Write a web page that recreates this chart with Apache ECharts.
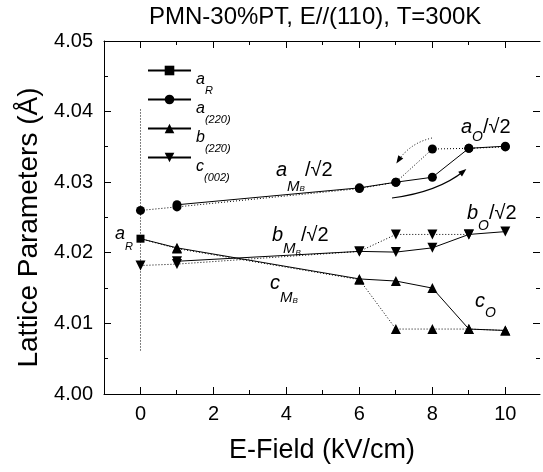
<!DOCTYPE html>
<html>
<head>
<meta charset="utf-8">
<script src="https://cdn.jsdelivr.net/npm/echarts@6/dist/echarts.min.js"></script>
<style>
  html, body { margin: 0; padding: 0; background: #fff; }
  #chart { width: 543px; height: 472px; }
</style>
</head>
<body>
<div id="chart"></div>
<script>
// E-field values (kV/cm) and lattice parameters (Å)
const fieldAUp = [1, 6, 7, 8, 9, 10]
const aUp = [4.0268, 4.0292, 4.0300, 4.0307, 4.0348, 4.0351]
const fieldADown = [0, 1, 6, 7, 8, 9, 10]
const aDown = [4.0260, 4.0265, 4.0291, 4.0300, 4.0347, 4.0348, 4.0350]

const fieldBUp = [0, 1, 6, 7, 8, 9, 10]
const bUp = [4.0220, 4.0207, 4.0163, 4.0160, 4.0150, 4.0092, 4.0090]
const fieldBDown = [0, 1, 6, 7, 8, 9, 10]
const bDown = [4.0220, 4.0206, 4.0162, 4.0092, 4.0092, 4.0092, 4.0090]

const fieldCUp = [1, 6, 7, 8, 9, 10]
const cUp = [4.0188, 4.0202, 4.0201, 4.0207, 4.0226, 4.0230]
const fieldCDown = [0, 1, 6, 7, 8, 9]
const cDown = [4.0182, 4.0184, 4.0202, 4.0226, 4.0226, 4.0226]

const fieldR = [0]
const aR = [4.0220]

// vertical dotted guide at E = 0
const guideField = [0, 0]
const guideValue = [4.0403, 4.0060]

// tick marks (drawn inside the frame on all four sides)
const xMajorTicks = [0, 2, 4, 6, 8, 10]
const xMinorTicks = [1, 3, 5, 7, 9]
const yMajorTicks = [4.00, 4.01, 4.02, 4.03, 4.04, 4.05]
const yMinorTicks = [4.005, 4.015, 4.025, 4.035, 4.045]

const X_MIN = -1, X_MAX = 10.95
const Y_MIN = 4.00, Y_MAX = 4.05

const FONT = 'Liberation Sans, Arial, Helvetica, sans-serif'
const BLACK = '#000'

const pts = (xs, ys) => xs.map((x, i) => [x, ys[i]])

const chart = echarts.init(document.getElementById('chart'))

// line series helper
const lineSeries = (name, data, symbol, size, dotted, extra) => Object.assign({
  name,
  type: 'line',
  data,
  symbol,
  symbolSize: size,
  itemStyle: { color: BLACK },
  lineStyle: { color: BLACK, width: 1, type: dotted ? [1, 2] : 'solid' },
  emphasis: { disabled: true },
  animation: false
}, extra || {})

// first point of the b-series sits under the a_R square
const hideFirst = (data) => data.map((d, i) => i === 0 ? { value: d, symbol: 'none' } : d)

// arrow head polygon at the end of a quadratic curve
const arrowHead = (x, y, cx, cy, len, hw) => {
  const dx = x - cx, dy = y - cy
  const l = Math.sqrt(dx * dx + dy * dy)
  const ux = dx / l, uy = dy / l
  const tx = x + ux * 3, ty = y + uy * 3
  const bx = tx - ux * len, by = ty - uy * len
  return [[tx, ty], [bx - uy * hw, by + ux * hw], [bx + uy * hw, by - ux * hw]]
}

const mainStyle = { fontFamily: FONT, fontSize: 20, fontStyle: 'italic', lineHeight: 24, verticalAlign: 'top' }
const plainStyle = { fontFamily: FONT, fontSize: 20, lineHeight: 24, verticalAlign: 'top' }
const sub = (size, pad) => ({ fontFamily: FONT, fontSize: size, fontStyle: 'italic', lineHeight: size, verticalAlign: 'top', padding: [pad, 0, 0, 0] })

const label = (left, top, text, rich) => ({
  type: 'text',
  left, top,
  style: { text, rich, fill: BLACK, font: '20px ' + FONT }
})

const legendNames = {
  aR: '{m|a}{s|R}',
  a220: '{m|a}{s|(220)}',
  b220: '{m|b}{s|(2\u0032\u03040)}',
  c002: '{m|c}{s|(002)}'
}

const frameAxis = (extra) => Object.assign({
  type: 'value',
  axisLine: { show: true, onZero: false, lineStyle: { color: BLACK, width: 1 } },
  axisTick: { show: false },
  axisLabel: { show: false },
  splitLine: { show: false }
}, extra)

const annotations = [
  label(276, 160, '{m|a}{s|M}{t|B}{n|/√2}', { m: mainStyle, n: plainStyle, s: sub(15, 19), t: sub(8, 25) }),
  label(272, 225, '{m|b}{s|M}{t|B}{n|/√2}', { m: mainStyle, n: plainStyle, s: sub(15, 16), t: sub(8, 24) }),
  label(270, 273, '{m|c}{s|M}{t|B}', { m: mainStyle, s: sub(15, 17), t: sub(8, 24) }),
  label(461, 117, '{m|a}{s|O}{n|/√2}', { m: mainStyle, n: plainStyle, s: sub(14, 13) }),
  label(467, 203, '{m|b}{s|O}{n|/√2}', { m: mainStyle, n: plainStyle, s: sub(14, 16) }),
  label(475, 291, '{m|c}{s|O}', { m: mainStyle, s: sub(14, 15) }),
  label(115, 225, '{m|a}{s|R}', {
    m: { fontFamily: FONT, fontSize: 18, fontStyle: 'italic', lineHeight: 22, verticalAlign: 'top' },
    s: sub(11, 16)
  }),
  {
    type: 'bezierCurve',
    shape: { x1: 432, y1: 138, cpx1: 410, cpy1: 143, x2: 398, y2: 161 },
    style: { stroke: BLACK, lineWidth: 1, lineDash: [1, 2], fill: null }
  },
  {
    type: 'polygon',
    shape: { points: arrowHead(398, 161, 410, 143, 8, 3) },
    style: { fill: BLACK }
  },
  {
    type: 'bezierCurve',
    shape: { x1: 392, y1: 198, cpx1: 438, cpy1: 192, x2: 464, y2: 171 },
    style: { stroke: BLACK, lineWidth: 1.2, fill: null }
  },
  {
    type: 'polygon',
    shape: { points: arrowHead(464, 171, 438, 192, 8, 3) },
    style: { fill: BLACK }
  }
]

const option = {
  animation: false,
  backgroundColor: '#fff',
  title: {
    text: 'PMN-30%PT, E//(110), T=300K',
    left: 144,
    top: 0,
    textStyle: { fontFamily: FONT, fontSize: 24, fontWeight: 'normal', color: BLACK }
  },
  grid: { left: 104, top: 41, width: 438, height: 353 },
  legend: {
    data: ['aR', 'a220', 'b220', 'c002'],
    orient: 'vertical',
    left: 147,
    top: 61.5,
    padding: 0,
    itemWidth: 43,
    itemHeight: 12,
    itemGap: -6,
    selectedMode: false,
    formatter: (name) => legendNames[name],
    textStyle: {
      color: BLACK,
      rich: {
        m: { fontFamily: FONT, fontSize: 16, fontStyle: 'italic', lineHeight: 18, verticalAlign: 'top', padding: [10, 0, 0, 0] },
        s: { fontFamily: FONT, fontSize: 11, fontStyle: 'italic', lineHeight: 12, verticalAlign: 'top', padding: [24, 0, 0, 0] }
      }
    }
  },
  xAxis: [
    frameAxis({
      position: 'bottom',
      min: X_MIN, max: X_MAX, interval: 1,
      name: 'E-Field (kV/cm)', nameLocation: 'middle', nameGap: 43,
      nameTextStyle: { fontFamily: FONT, fontSize: 27, color: BLACK },
      axisLabel: {
        show: true, margin: 10, fontFamily: FONT, fontSize: 20, color: BLACK,
        formatter: (v) => (v % 2 === 0 && v >= 0 && v <= 10) ? String(v) : ''
      }
    }),
    frameAxis({ position: 'top', min: X_MIN, max: X_MAX, interval: 1 })
  ],
  yAxis: [
    frameAxis({
      position: 'left',
      min: Y_MIN, max: Y_MAX, interval: 0.01,
      name: 'Lattice Parameters (Å)', nameLocation: 'middle', nameGap: 56,
      nameTextStyle: { fontFamily: FONT, fontSize: 28, color: BLACK, padding: [0, 20, 0, 0] },
      axisLabel: { show: true, margin: 11, fontFamily: FONT, fontSize: 20, color: BLACK, formatter: (v) => v.toFixed(2) }
    })
  ],
  series: [
    lineSeries('guide', pts(guideField, guideValue), 'none', 0, true, { silent: true }),
    lineSeries('a220 down', pts(fieldADown, aDown), 'circle', 9, true),
    lineSeries('b220 down', hideFirst(pts(fieldBDown, bDown)), 'triangle', 10, true),
    lineSeries('c002 down', pts(fieldCDown, cDown), 'triangle', 10, true, { symbolRotate: 180 }),
    lineSeries('a220', pts(fieldAUp, aUp), 'circle', 9, false),
    lineSeries('b220', hideFirst(pts(fieldBUp, bUp)), 'triangle', 10, false),
    lineSeries('c002', pts(fieldCUp, cUp), 'triangle', 10, false, { symbolRotate: 180 }),
    lineSeries('aR', pts(fieldR, aR), 'rect', 8, false)
  ],
  graphic: annotations
}

chart.setOption(option)

// tick marks as thin filled rects, placed through the grid's own scales
const px = (x, y) => chart.convertToPixel({ gridIndex: 0 }, [x, y])
const tickRect = (x, y, w, h) => ({
  type: 'rect',
  silent: true,
  shape: { x, y, width: w, height: h },
  style: { fill: BLACK }
})
const ticks = []
const addXTick = (v, len) => {
  const b = px(v, Y_MIN)
  const t = px(v, Y_MAX)
  const x = Math.round(b[0] - 0.5)
  ticks.push(tickRect(x, b[1] - len, 1, len), tickRect(x, t[1], 1, len))
}
const addYTick = (v, len) => {
  const l = px(X_MIN, v)
  const r = px(X_MAX, v)
  const y = Math.round(l[1] - 0.5)
  ticks.push(tickRect(l[0], y, len, 1), tickRect(r[0] - len, y, len, 1))
}
xMajorTicks.forEach(v => addXTick(v, 7))
xMinorTicks.forEach(v => addXTick(v, 4))
yMajorTicks.forEach(v => addYTick(v, 7))
yMinorTicks.forEach(v => addYTick(v, 4))

chart.setOption({ graphic: annotations.concat(ticks) })

window.addEventListener('resize', () => chart.resize())
</script>
</body>
</html>
